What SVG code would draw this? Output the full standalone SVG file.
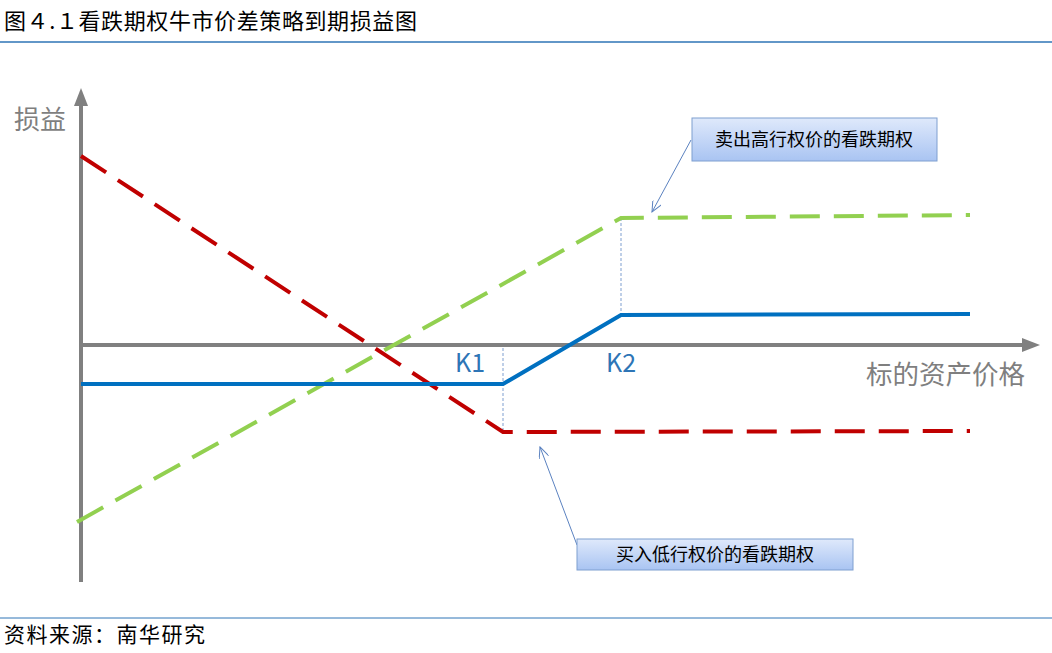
<svg xmlns="http://www.w3.org/2000/svg" width="1052" height="653" viewBox="0 0 1052 653">
<defs>
<style>
text{font-family:"Noto Sans CJK SC","Liberation Sans",sans-serif}
.ax{stroke:#808080;stroke-width:4;fill:none}
.ln{fill:none;stroke-width:4}
.call{fill:url(#g);stroke:#7f9fd0;stroke-width:1}
.lead{stroke:#5b82c0;stroke-width:1;fill:none;marker-end:url(#ah)}
</style>
<linearGradient id="g" x1="0" y1="0" x2="0" y2="1"><stop offset="0" stop-color="#dfe9fb"/><stop offset="1" stop-color="#a9c4f2"/></linearGradient>
<marker id="ah" markerWidth="12" markerHeight="10" refX="11" refY="5" orient="auto" markerUnits="userSpaceOnUse"><path d="M0,0 L11,5 L0,10" fill="none" stroke="#5b82c0" stroke-width="1"/></marker>
<marker id="ax" markerWidth="18" markerHeight="18" refX="2" refY="9" orient="auto" markerUnits="userSpaceOnUse"><path d="M0,2 L18,9 L0,16 Z" fill="#808080"/></marker>
</defs>
<rect width="1052" height="653" fill="#fff"/>
<text x="4" y="29" font-size="22" letter-spacing="0.6" fill="#000">图４.１看跌期权牛市价差策略到期损益图</text>
<line x1="0" y1="42" x2="1052" y2="42" stroke="#2e75b6" stroke-width="1.5"/>
<line x1="0" y1="618" x2="1052" y2="618" stroke="#2e75b6" stroke-width="1"/>
<text x="4" y="642" font-size="21" letter-spacing="1.5" fill="#000">资料来源：南华研究</text>
<g id="axes">
<line class="ax" x1="81" y1="582" x2="81" y2="104" marker-end="url(#ax)"/>
<line class="ax" x1="81" y1="345" x2="1024" y2="345" marker-end="url(#ax)"/>
<text x="14" y="129" font-size="26" fill="#7f7f7f">损益</text>
<text x="866" y="384" font-size="26.5" fill="#7f7f7f">标的资产价格</text>
<text x="455" y="372" font-size="25" fill="#2e75b6">K1</text>
<text x="606" y="372" font-size="25" fill="#2e75b6">K2</text>
</g>
<g id="connectors">
<line x1="503" y1="348" x2="503" y2="432" stroke="#7f9fd0" stroke-width="1" stroke-dasharray="3,2"/>
<line x1="621" y1="218" x2="621" y2="314" stroke="#7f9fd0" stroke-width="1" stroke-dasharray="3,2"/>
<path class="ln" stroke="#c00000" stroke-dasharray="30,14" d="M81,156 L503,432 L970,431"/>
<path class="ln" stroke="#92d050" stroke-dasharray="30,14" d="M77,522 L621,218 L970,215"/>
<path class="ln" stroke="#0070c0" d="M81,384 L503,384 L621,315 L970,314"/>
<line class="lead" x1="691" y1="140" x2="652" y2="212"/>
<line class="lead" x1="577" y1="545" x2="540" y2="447"/>
</g>
<g id="call-sell">
<rect class="call" x="692" y="118" width="245" height="43"/>
<text x="814" y="146" font-size="18" text-anchor="middle" fill="#000">卖出高行权价的看跌期权</text>
</g>
<g id="call-buy">
<rect class="call" x="577" y="539" width="276" height="31"/>
<text x="715" y="561" font-size="18" text-anchor="middle" fill="#000">买入低行权价的看跌期权</text>
</g>
</svg>
